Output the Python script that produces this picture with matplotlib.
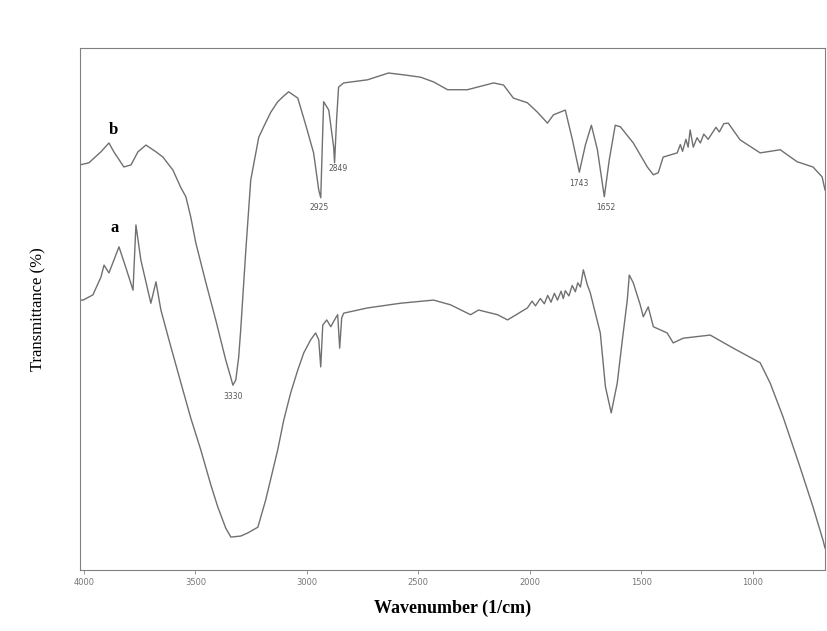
import numpy as np
import matplotlib.pyplot as plt

# wavenumber (1/cm) and transmittance (arbitrary %, no y scale shown)
wn_b = [4018, 3978, 3924, 3888, 3866, 3821, 3789, 3758, 3722, 3677, 3646, 3601,
        3565, 3543, 3521, 3498, 3453, 3409, 3364, 3341, 3332, 3319, 3306, 3297,
        3274, 3252, 3216, 3194, 3162, 3131, 3104, 3082, 3041, 3005, 2970, 2947,
        2938, 2925, 2902, 2880, 2876, 2867, 2858, 2835, 2728, 2634, 2557, 2490,
        2432, 2369, 2280, 2163, 2118, 2074, 2011, 1966, 1921, 1894, 1841, 1809,
        1778, 1751, 1724, 1697, 1666, 1644, 1617, 1594, 1536, 1473, 1446, 1424,
        1402, 1339, 1325, 1315, 1300, 1290, 1281, 1267, 1250, 1235, 1220, 1200,
        1182, 1165, 1150, 1130, 1110, 1057, 967, 877, 801, 730, 689, 676]
tr_b = [77.6, 78.0, 80.1, 81.8, 80.1, 77.2, 77.6, 80.1, 81.4, 80.1, 79.1, 76.6,
        73.2, 71.5, 67.6, 62.6, 55.0, 47.9, 40.2, 36.8, 35.4, 36.4, 40.8, 46.0,
        61.3, 74.7, 82.9, 84.9, 87.7, 89.7, 90.8, 91.6, 90.4, 85.2, 79.9, 72.8,
        71.3, 89.7, 88.1, 81.0, 78.0, 86.2, 92.5, 93.3, 93.9, 95.2, 94.8, 94.4,
        93.5, 92.0, 92.0, 93.3, 92.9, 90.4, 89.5, 87.7, 85.6, 87.2, 88.1, 82.4,
        76.2, 81.4, 85.2, 80.5, 71.5, 78.5, 85.2, 84.9, 81.8, 77.2, 75.7, 76.1,
        79.1, 79.9, 81.5, 80.2, 82.5, 81.0, 84.3, 81.0, 82.8, 81.8, 83.5, 82.5,
        83.7, 84.8, 83.9, 85.5, 85.6, 82.4, 79.9, 80.5, 78.2, 77.2, 75.3, 72.8]

wn_a = [4018, 4004, 3960, 3924, 3910, 3888, 3843, 3812, 3780, 3767, 3745, 3700,
        3677, 3655, 3619, 3565, 3521, 3476, 3431, 3400, 3364, 3341, 3297, 3265,
        3220, 3185, 3131, 3104, 3073, 3041, 3014, 2983, 2961, 2947, 2938, 2929,
        2911, 2893, 2871, 2862, 2853, 2844, 2835, 2728, 2580, 2432, 2356, 2266,
        2230, 2145, 2100, 2011, 1990, 1975, 1953, 1935, 1920, 1905, 1890, 1876,
        1860, 1850, 1841, 1825, 1810, 1796, 1785, 1773, 1760, 1742, 1729, 1684,
        1661, 1635, 1608, 1585, 1563, 1554, 1536, 1505, 1491, 1469, 1446, 1415,
        1384, 1357, 1312, 1191, 1088, 967, 922, 864, 788, 730, 685, 676]
tr_a = [51.7, 51.7, 52.7, 56.1, 58.4, 56.9, 61.9, 57.9, 53.6, 66.1, 59.4, 51.1,
        55.2, 49.8, 44.1, 35.8, 29.1, 23.0, 16.3, 12.1, 8.0, 6.3, 6.5, 7.1,
        8.2, 13.4, 23.0, 28.7, 33.9, 38.3, 41.6, 44.1, 45.4, 44.1, 38.9, 46.9,
        47.9, 46.6, 48.3, 48.9, 42.5, 48.3, 49.2, 50.2, 51.1, 51.7, 50.8, 48.9,
        49.8, 48.9, 47.9, 50.2, 51.5, 50.6, 52.0, 51.0, 52.6, 51.3, 53.0, 51.7,
        53.4, 52.0, 53.5, 52.5, 54.5, 53.3, 55.0, 54.2, 57.5, 54.6, 53.1, 45.4,
        35.1, 30.1, 35.8, 44.1, 51.7, 56.5, 55.0, 50.8, 48.5, 50.4, 46.6, 46.0,
        45.4, 43.5, 44.4, 45.0, 42.5, 39.7, 35.8, 29.3, 19.7, 12.1, 5.7, 4.2]

peak_labels = ["3330", "2925", "2849", "1743", "1652"]
peak_x = [3330, 2947, 2862, 1778, 1661]
peak_y = [33.3, 69.5, 77.0, 74.1, 69.5]

xticks = [4000, 3500, 3000, 2500, 2000, 1500, 1000]

fig = plt.figure(figsize=(8.27, 6.31), dpi=100)
ax = fig.add_axes([0.0967, 0.0967, 0.9009, 0.8273])

col = '#707070'
ax.plot(wn_b, tr_b, color=col, lw=1.0)
ax.plot(wn_a, tr_a, color=col, lw=1.0)

for lab, px, py in zip(peak_labels, peak_x, peak_y):
    ax.text(px, py, lab, fontsize=5.5, color='#555555', ha='center', va='center')

ax.text(3870, 84.3, 'b', fontsize=12, fontweight='bold', family='Liberation Serif',
        ha='center', va='center')
ax.text(3861, 65.5, 'a', fontsize=12, fontweight='bold', family='Liberation Serif',
        ha='center', va='center')

ax.set_xlim(4018, 676)
ax.set_ylim(0, 100)
ax.set_xticks(xticks)
ax.set_xticklabels([str(t) for t in xticks], fontsize=6, color='#777777')
ax.set_yticks([])
ax.tick_params(axis='x', length=3, width=0.6, color='#888888', pad=3)
for s in ax.spines.values():
    s.set_color('#808080')
    s.set_linewidth(0.8)

ax.set_xlabel('Wavenumber (1/cm)', fontsize=13, fontweight='bold',
              family='Liberation Serif', labelpad=9)
ax.set_ylabel('Transmittance (%)', fontsize=12, family='Liberation Serif',
              labelpad=24)

fig.savefig('out.png', dpi=100)
